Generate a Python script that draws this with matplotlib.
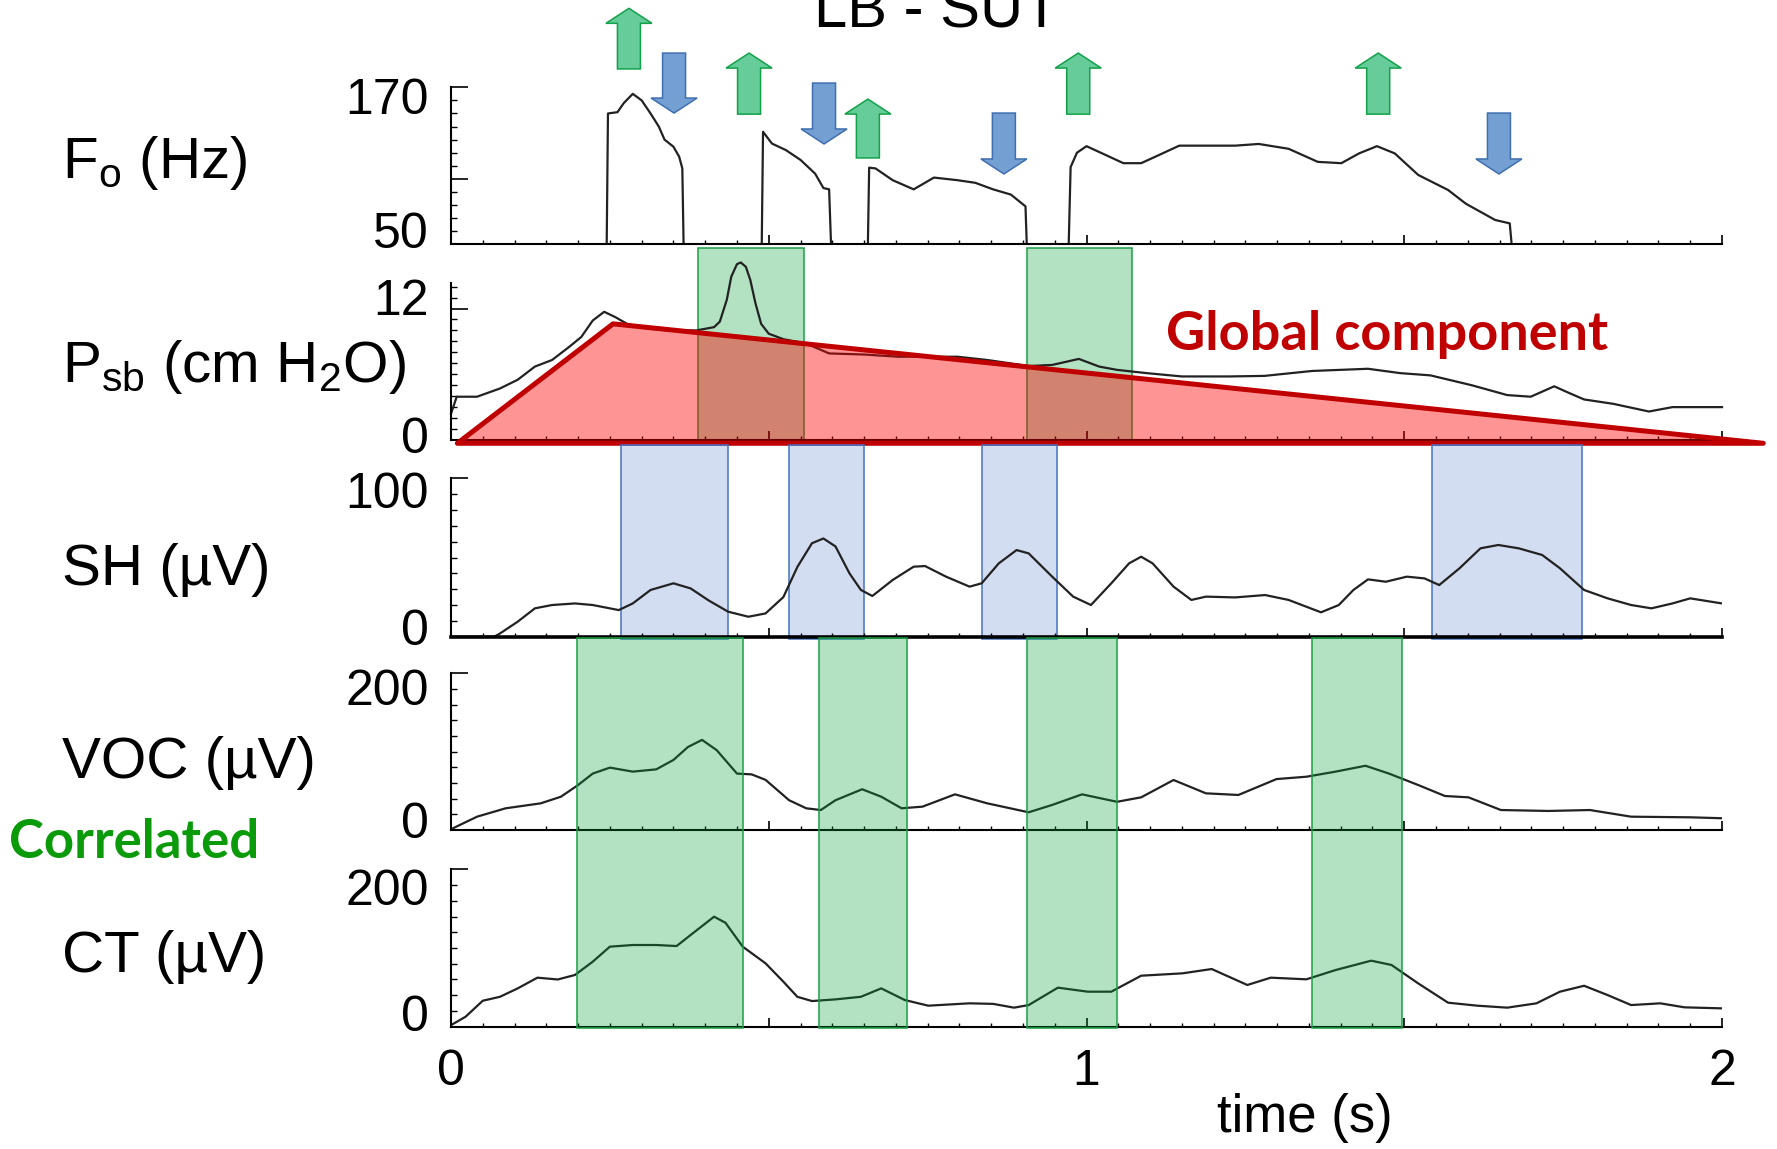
import matplotlib
matplotlib.use("Agg")
import matplotlib.pyplot as plt
from matplotlib.patches import Polygon
from matplotlib.ticker import MultipleLocator
from matplotlib.transforms import ScaledTranslation

plt.rcParams['font.family'] = ['Liberation Sans', 'DejaVu Sans']
plt.rcParams['mathtext.fontset'] = 'custom'
plt.rcParams['mathtext.rm'] = 'Liberation Sans'
plt.rcParams['mathtext.it'] = 'Liberation Sans:italic'

# ---- data ----
f0_t = [0, 0.245, 0.247, 0.262, 0.272, 0.286, 0.300, 0.314, 0.327, 0.336, 0.350, 0.359, 0.364, 0.366,
        0.489, 0.491, 0.505, 0.527, 0.550, 0.573, 0.586, 0.595, 0.598,
        0.656, 0.658, 0.668, 0.695, 0.728, 0.760, 0.797, 0.825, 0.853, 0.881, 0.904, 0.906,
        0.972, 0.975, 0.985, 1.0, 1.030, 1.058, 1.086, 1.113, 1.146, 1.188, 1.234, 1.271,
        1.318, 1.364, 1.401, 1.429, 1.457, 1.485, 1.522, 1.569, 1.597, 1.643, 1.666, 1.669, 2.0]
f0_hz = [50, 50, 150, 151, 158, 165, 160, 150, 140, 130, 124.6, 117, 108, 50,
         50, 136, 127, 122, 114.5, 104, 93, 92, 50,
         50, 108.6, 108, 99, 92, 101, 99, 97, 92, 88, 79, 50,
         50, 109, 120, 125, 118.3, 112, 112, 118, 125.4, 125.4, 125.4, 126.7,
         123, 113, 112, 119.5, 125, 119.5, 103, 91.5, 81, 68.6, 66, 50, 50]

psb_t = [0, 0.009, 0.041, 0.077, 0.105, 0.132, 0.159, 0.186, 0.205, 0.223, 0.241, 0.259, 0.277,
         0.305, 0.341, 0.386, 0.414, 0.423, 0.434, 0.441, 0.450, 0.456, 0.464, 0.471, 0.479,
         0.488, 0.500, 0.523, 0.559, 0.595, 0.650, 0.704, 0.797, 0.844, 0.909, 0.946, 0.988,
         1.020, 1.048, 1.095, 1.150, 1.225, 1.280, 1.355, 1.443, 1.494, 1.541, 1.606, 1.662,
         1.699, 1.736, 1.759, 1.783, 1.829, 1.885, 1.922, 2.0]
psb_v = [2.4, 3.95, 3.95, 4.7, 5.5, 6.7, 7.3, 8.5, 9.4, 10.9, 11.7, 11.2, 10.6,
         10.2, 10.0, 10.0, 10.3, 10.8, 12.8, 14.9, 16.05, 16.2, 15.8, 14.6, 12.5,
         10.6, 9.7, 9.2, 8.8, 7.9, 7.8, 7.6, 7.6, 7.3, 6.75, 6.85, 7.4,
         6.7, 6.4, 6.1, 5.8, 5.8, 5.85, 6.3, 6.5, 6.1, 5.9, 5.0, 4.1,
         3.95, 4.9, 4.3, 3.7, 3.3, 2.6, 3.0, 3.0]

sh_t = [0, 0.068, 0.077, 0.105, 0.132, 0.159, 0.195, 0.223, 0.264, 0.286, 0.314, 0.350, 0.377,
        0.405, 0.436, 0.468, 0.495, 0.523, 0.545, 0.568, 0.586, 0.605, 0.627, 0.645, 0.663,
        0.695, 0.728, 0.746, 0.779, 0.816, 0.835, 0.862, 0.890, 0.909, 0.946, 0.979, 1.007,
        1.039, 1.067, 1.086, 1.104, 1.137, 1.165, 1.188, 1.234, 1.281, 1.318, 1.369, 1.397,
        1.420, 1.443, 1.471, 1.504, 1.532, 1.555, 1.587, 1.620, 1.648, 1.680, 1.717, 1.745,
        1.783, 1.820, 1.857, 1.889, 1.922, 1.950, 2.0]
sh_v = [0, 0, 2, 9.5, 17.9, 20, 21, 20, 16.8, 21, 29.5, 33.7, 30.5,
        23, 15.8, 12.6, 14.7, 25, 44, 59, 62, 57, 40, 29.5, 25.7,
        35.8, 44.2, 44.6, 37.9, 31.6, 33.7, 46.3, 54.7, 52.6, 37.9, 25.3, 20,
        33.7, 46.3, 50.5, 46.3, 31.6, 23.2, 25.3, 24.8, 26.3, 23.2, 15.4, 20,
        29.5, 36.2, 34.7, 37.9, 36.8, 32.6, 43.2, 55.8, 57.9, 55.8, 51.6, 43.2,
        29.5, 24.2, 20, 17.9, 21, 24.2, 21]

voc_t = [0, 0.041, 0.086, 0.141, 0.173, 0.200, 0.223, 0.250, 0.286, 0.323, 0.350, 0.373, 0.395,
         0.418, 0.450, 0.473, 0.495, 0.532, 0.559, 0.582, 0.605, 0.647, 0.677, 0.709, 0.742,
         0.793, 0.844, 0.909, 0.946, 0.993, 1.048, 1.086, 1.137, 1.188, 1.239, 1.299, 1.346,
         1.392, 1.439, 1.476, 1.522, 1.564, 1.601, 1.652, 1.727, 1.792, 1.857, 1.950, 2.0]
voc_v = [1, 17, 27.7, 34, 42.5, 57.4, 72, 79.6, 74.5, 77.4, 89.4, 106, 115,
         102, 72, 71, 64, 38, 27.7, 25.5, 38, 52, 42.5, 27.7, 29.8,
         45.5, 34, 22.6, 32, 45.5, 36, 41.7, 63.8, 46.8, 44.7, 65, 68,
         74.5, 82, 72, 57.4, 43.4, 41.7, 25.5, 24.3, 25.5, 17, 16.2, 15]

ct_t = [0, 0.023, 0.050, 0.077, 0.105, 0.136, 0.168, 0.195, 0.223, 0.250, 0.286, 0.323, 0.355,
        0.377, 0.414, 0.432, 0.459, 0.495, 0.523, 0.545, 0.568, 0.605, 0.645, 0.677, 0.714,
        0.751, 0.816, 0.853, 0.886, 0.909, 0.955, 1.002, 1.039, 1.086, 1.151, 1.197, 1.253,
        1.290, 1.346, 1.392, 1.448, 1.480, 1.522, 1.569, 1.615, 1.662, 1.708, 1.745, 1.783,
        1.820, 1.857, 1.903, 1.941, 2.0]
ct_v = [2, 12.7, 33, 38, 48.7, 62.3, 60, 65.7, 82.6, 101.7, 103.8, 103.8, 102.5,
        116.5, 139.8, 132, 101.7, 80.5, 57.2, 38, 32.6, 34.7, 38, 48.7, 33.9,
        26.7, 29.7, 29, 24.2, 27.5, 49.6, 44.5, 44.5, 64.8, 67.8, 73.3, 53,
        62.3, 60.2, 72, 83.9, 78.4, 55, 30.5, 26.7, 24.2, 29.7, 44.5, 52,
        40.2, 27.5, 29.7, 24.6, 23.3]

# highlighted intervals (s)
psb_boxes = [(0.388, 0.555), (0.906, 1.072)]
sh_boxes = [(0.268, 0.436), (0.532, 0.650), (0.836, 0.954), (1.543, 1.780)]
emg_boxes = [(0.198, 0.459), (0.579, 0.718), (0.906, 1.048), (1.355, 1.496)]

# global component (triangle in Psb units)
glob_t = [0.01, 0.255, 2.065]
glob_v = [-0.3, 10.6, -0.3]

# F0 rise / fall markers (time)
up_times = [0.280, 0.469, 0.656, 0.987, 1.459]
down_times = [0.351, 0.587, 0.870, 1.649]

W, H = 1777, 1149
fig = plt.figure(figsize=(W / 100, H / 100), dpi=100)
fig.patch.set_facecolor('white')


def add_panel(top, bottom):
    ax = fig.add_axes([451 / W, 1 - bottom / H, 1271 / W, (bottom - top) / H])
    ax.set_facecolor('none')
    ax.spines[['top', 'right']].set_visible(False)
    ax.spines[['left', 'bottom']].set_linewidth(1.5)
    ax.set_xlim(0, 2)
    ax.xaxis.set_major_locator(MultipleLocator(0.5))
    ax.xaxis.set_minor_locator(MultipleLocator(0.05))
    ax.tick_params(axis='x', which='major', direction='in', length=6.5, width=1.2, labelbottom=False)
    ax.tick_params(axis='x', which='minor', direction='in', length=3, width=1.0)
    ax.tick_params(axis='y', which='major', direction='in', length=12, width=1.2, labelsize=36, pad=16)
    ax.tick_params(axis='y', which='minor', direction='in', length=4, width=1.0)
    return ax


def nudge(ax, shifts):
    for lab, dy in zip(ax.get_yticklabels(), shifts):
        lab.set_transform(lab.get_transform() + ScaledTranslation(0, dy / 72, fig.dpi_scale_trans))


line_kw = dict(color='#222222', lw=1.6, solid_joinstyle='round')
green_fc = (0.0, 0.63, 0.22, 0.30)
green_ec = '#1a9e45'
blue_fc = (0.267, 0.447, 0.769, 0.235)
blue_ec = '#4472c4'

# F0
ax_f0 = add_panel(87.3, 244.3)
ax_f0.plot(f0_t, f0_hz, **line_kw)
ax_f0.set_ylim(50, 170)
ax_f0.set_yticks([50, 100, 170], ['50', '', '170'])
ax_f0.yaxis.set_minor_locator(MultipleLocator(10))
nudge(ax_f0, [10, 0, -6])

# Psb
ax_psb = add_panel(283.3, 440)
ax_psb.set_ylim(0, 14.3)
for a, b in psb_boxes:
    ax_psb.axvspan(a, b, 0, 1.225, fc=green_fc, ec=green_ec, lw=1.1, clip_on=False, zorder=1)
ax_psb.plot(psb_t, psb_v, clip_on=False, zorder=2, **line_kw)
ax_psb.add_patch(Polygon(list(zip(glob_t, glob_v)), closed=True, fc=(1, 0, 0, 0.42), ec='#c00000',
                         lw=3.6, joinstyle='round', clip_on=False, zorder=3))
ax_psb.set_yticks([0, 12], ['0', '12'])
ax_psb.yaxis.set_minor_locator(MultipleLocator(1))
nudge(ax_psb, [3.5, 8])

# SH
ax_sh = add_panel(478.3, 636.7)
ax_sh.set_ylim(0, 100)
for a, b in sh_boxes:
    ax_sh.axvspan(a, b, -0.015, 1.21, fc=blue_fc, ec=blue_ec, lw=1.1, clip_on=False, zorder=1)
ax_sh.plot(sh_t, sh_v, zorder=2, **line_kw)
ax_sh.spines['bottom'].set_linewidth(2.6)
ax_sh.set_yticks([0, 100], ['0', '100'])
ax_sh.yaxis.set_minor_locator(MultipleLocator(10))
nudge(ax_sh, [7, -8.5])

# VOC
ax_voc = add_panel(673.3, 830)
ax_voc.set_ylim(0, 200)
ax_voc.plot(voc_t, voc_v, **line_kw)
ax_voc.set_yticks([0, 200], ['0', '200'])
ax_voc.yaxis.set_minor_locator(MultipleLocator(20))
nudge(ax_voc, [7, -10])

# CT
ax_ct = add_panel(869.3, 1026.7)
ax_ct.set_ylim(0, 200)
ax_ct.plot(ct_t, ct_v, **line_kw)
for a, b in emg_boxes:
    ax_ct.axvspan(a, b, -0.008, 2.47, fc=green_fc, ec=green_ec, lw=1.1, clip_on=False, zorder=3)
ax_ct.set_yticks([0, 200], ['0', '200'])
ax_ct.yaxis.set_minor_locator(MultipleLocator(20))
nudge(ax_ct, [10, -13])
ax_ct.set_xticks([0, 0.5, 1, 1.5, 2], ['0', '', '1', '', '2'])
ax_ct.tick_params(axis='x', which='major', labelbottom=True, labelsize=36, pad=16)
ax_ct.set_xlabel('time (s)', fontsize=38)
ax_ct.xaxis.set_label_coords(0.672, -0.42)

# rise / fall arrows above the F0 panel (pixel geometry)
inv = fig.transFigure.inverted()


def arrow(t, y_tail, y_tip, face, edge):
    x = ax_f0.transData.transform((t, 50))[0]
    y0 = ax_f0.transAxes.transform((0, y_tail))[1]
    y1 = ax_f0.transAxes.transform((0, y_tip))[1]
    d = 1 if y1 > y0 else -1
    hw, sw, hl = 23, 11.5, 15
    verts = [(x - sw, y0), (x - sw, y1 - d * hl), (x - hw, y1 - d * hl), (x, y1),
             (x + hw, y1 - d * hl), (x + sw, y1 - d * hl), (x + sw, y0)]
    fig.add_artist(Polygon(inv.transform(verts), closed=True, transform=fig.transFigure,
                           fc=face, ec=edge, lw=1.1))


up_span = [(1.117, 1.503), (0.829, 1.218), (0.550, 0.925), (0.829, 1.218), (0.829, 1.218)]
down_span = [(1.218, 0.836), (1.027, 0.639), (0.836, 0.448), (0.836, 0.448)]
for t, (a, b) in zip(up_times, up_span):
    arrow(t, a, b, '#66cc99', '#12a14a')
for t, (a, b) in zip(down_times, down_span):
    arrow(t, a, b, '#749fd2', '#3f6fb0')

# panel labels
lab_kw = dict(fontsize=42, va='baseline', ha='left')
fig.text(62 / W, 1 - 178 / H, r'F$_{\mathrm{o}}$ (Hz)', **lab_kw)
fig.text(62 / W, 1 - 381.7 / H, r'P$_{\mathrm{sb}}$ (cm H$_{\mathrm{2}}$O)', **lab_kw)
fig.text(62 / W, 1 - 585 / H, 'SH (µV)', **lab_kw)
fig.text(62 / W, 1 - 778 / H, 'VOC (µV)', **lab_kw)
fig.text(62 / W, 1 - 971.7 / H, 'CT (µV)', **lab_kw)

# title sits partly above the top edge, as in the reference
fig.text(937 / W, 1 - 27 / H, 'LB - SUT', ha='center', va='baseline', fontsize=43)
fig.text(1166 / W, 1 - 350 / H, 'Global component', color='#c00000', fontsize=39,
         fontweight='bold', family=['Lato', 'DejaVu Sans'], va='baseline')
fig.text(9 / W, 1 - 858 / H, 'Correlated', color='#0a9a0a', fontsize=38,
         fontweight='bold', family=['Lato', 'DejaVu Sans'], va='baseline')

fig.savefig('out.png', dpi=100)
